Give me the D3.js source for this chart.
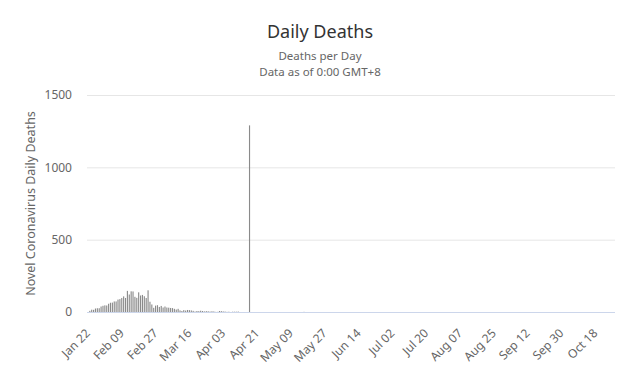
<!DOCTYPE html>
<html>
<head>
<meta charset="utf-8">
<script src="https://cdn.jsdelivr.net/npm/d3@7"></script>
<style>
  body { margin: 0; background: #fff; }
  svg { font-family: "Noto Sans", "Open Sans", sans-serif; }
</style>
</head>
<body>
<svg id="chart"></svg>
<script>
// daily deaths, Jan 22 .. Apr 17
var earlyDeaths = [0, 8, 16, 15, 24, 26, 26, 38, 43, 46,
  45, 57, 64, 65, 73, 73, 86, 89, 97, 108,
  97, 146, 121, 143, 142, 105, 98, 136, 114, 118,
  109, 97, 150, 71, 52, 29, 44, 47, 35, 42,
  31, 38, 31, 30, 28, 27, 22, 17, 22, 11,
  7, 13, 10, 14, 13, 11, 8, 3, 7, 6,
  9, 7, 4, 6, 5, 3, 5, 4, 1, 1,
  7, 6, 4, 3, 1, 2, 0, 2, 2, 2,
  3, 0, 0, 0, 0, 0, 1290];
// Apr 18 .. Oct 28
var lateDeaths = [0, 0, 0, 0, 0, 0, 0, 0, 0, 0,
  0, 0, 0, 0, 0, 0, 0, 0, 0, 0,
  0, 0, 0, 0, 0, 0, 0, 0, 1, 0,
  0, 0, 0, 0, 0, 0, 0, 0, 0, 0,
  0, 0, 0, 0, 0, 0, 0, 0, 0, 0,
  0, 0, 0, 0, 0, 0, 0, 0, 0, 0,
  0, 0, 0, 0, 0, 0, 0, 0, 0, 0,
  0, 0, 0, 0, 0, 0, 0, 0, 0, 0,
  0, 0, 0, 0, 0, 0, 0, 0, 0, 0,
  0, 0, 0, 0, 0, 0, 0, 0, 0, 0,
  0, 0, 0, 0, 0, 0, 0, 0, 0, 0,
  0, 0, 0, 0, 0, 0, 0, 0, 0, 0,
  0, 0, 0, 0, 0, 0, 0, 0, 0, 0,
  0, 0, 0, 0, 0, 0, 0, 0, 0, 0,
  0, 0, 0, 0, 0, 0, 0, 0, 0, 0,
  0, 0, 0, 0, 0, 0, 0, 0, 0, 0,
  0, 0, 0, 0, 0, 0, 0, 0, 0, 0,
  0, 0, 0, 0, 0, 0, 0, 0, 0, 0,
  0, 0, 0, 0, 0, 0, 0, 0, 0, 0,
  0, 0, 0, 0];
var deaths = earlyDeaths.concat(lateDeaths);

var startDate = new Date(2020, 0, 22);
var fmt = d3.timeFormat("%b %d");
var categories = deaths.map(function(d, i) {
  return fmt(d3.timeDay.offset(startDate, i));
});
var tickLabels = ["Jan 22", "Feb 09", "Feb 27", "Mar 16", "Apr 03", "Apr 21", "May 09", "May 27",
  "Jun 14", "Jul 02", "Jul 20", "Aug 07", "Aug 25", "Sep 12", "Sep 30", "Oct 18"];
var yTicks = [0, 500, 1000, 1500];

var width = 633, height = 372;
var plotLeft = 87, plotRight = 615, plotTop = 95, plotBottom = 312;

var svg = d3.select("#chart").attr("width", width).attr("height", height);

var x = d3.scaleBand().domain(categories).range([plotLeft, plotRight]).paddingInner(0.4).paddingOuter(0.2);
var y = d3.scaleLinear().domain([0, 1500]).range([plotBottom, plotTop]);

// titles
svg.append("text").attr("x", 320).attr("y", 38).attr("text-anchor", "middle")
   .attr("font-size", 18).attr("fill", "#333").text("Daily Deaths");
svg.append("text").attr("x", 320).attr("y", 60).attr("text-anchor", "middle")
   .attr("font-size", 11.5).attr("fill", "#666").text("Deaths per Day");
svg.append("text").attr("x", 320).attr("y", 76).attr("text-anchor", "middle")
   .attr("font-size", 11.5).attr("fill", "#666").text("Data as of 0:00 GMT+8");

// grid + y labels
var yAxis = svg.append("g").attr("transform", "translate(" + plotLeft + ",0)")
  .call(d3.axisLeft(y).tickValues(yTicks).tickFormat(d3.format("d"))
    .tickSize(-(plotRight - plotLeft)).tickPadding(15));
yAxis.select(".domain").remove();
yAxis.selectAll(".tick line").attr("stroke", "#e6e6e6");
yAxis.selectAll(".tick text").attr("fill", "#666").attr("font-size", 12)
  .attr("font-family", "\"Noto Sans\", sans-serif");

svg.append("text")
   .attr("transform", "translate(35," + ((plotTop + plotBottom) / 2) + ") rotate(-90)")
   .attr("text-anchor", "middle").attr("font-size", 12.5).attr("fill", "#666")
   .text("Novel Coronavirus Daily Deaths");

// bars
svg.selectAll("rect.bar")
   .data(deaths)
   .enter()
   .append("rect")
   .attr("class", "bar")
   .attr("x", function(d, i) { return x(categories[i]); })
   .attr("y", function(d) { return y(d); })
   .attr("width", x.bandwidth())
   .attr("height", function(d) { return plotBottom - y(d); })
   .attr("fill", "#8a8a8a");

// x axis
var xAxis = svg.append("g").attr("transform", "translate(0," + plotBottom + ")")
  .call(d3.axisBottom(x).tickValues(tickLabels).tickSize(0).tickPadding(0));
xAxis.select(".domain").attr("stroke", "#ccd6eb").attr("d", "M" + plotLeft + ",0.5H" + plotRight);
xAxis.selectAll(".tick text")
  .attr("fill", "#666").attr("font-size", 12)
  .attr("font-family", "\"Noto Sans\", sans-serif")
  .attr("text-anchor", "end")
  .attr("dy", null)
  .attr("y", 0)
  .attr("transform", "translate(3,22) rotate(-45)");
</script>
</body>
</html>
